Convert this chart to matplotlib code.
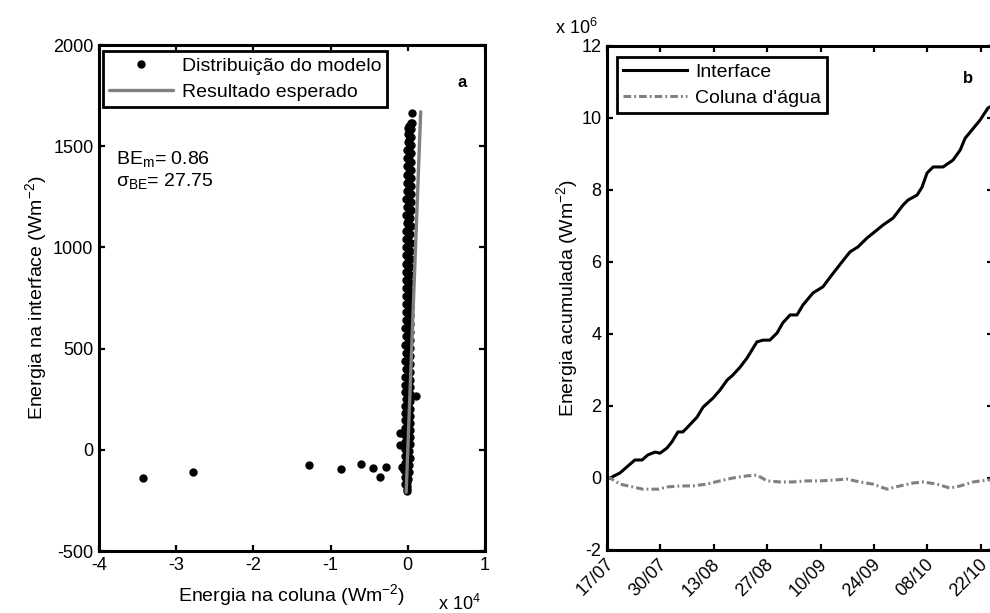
"""Energia na interface vs coluna d'agua (painel a) e energia acumulada (painel b)"""
import matplotlib
matplotlib.use("Agg")
import matplotlib.pyplot as plt
import matplotlib.transforms as mtransforms

plt.rcParams['font.family'] = ['Liberation Sans', 'DejaVu Sans']
plt.rcParams['mathtext.fontset'] = 'custom'
plt.rcParams['mathtext.rm'] = 'Liberation Sans'
plt.rcParams['mathtext.it'] = 'Liberation Sans:italic'
plt.rcParams['axes.unicode_minus'] = False
plt.rcParams['font.size'] = 14

# ---- painel a: dispersao ----
# nuvem densa perto de x = 0 (tres colunas de pontos)
cluster_y = [-205, -170, -135, -100, -65, -30, 5, 40, 75, 110, 145, 180,
             215, 250, 285, 320, 360, 400, 440, 480, 520, 560, 600, 640,
             680, 720, 760, 800, 840, 880, 920, 960, 1000, 1040, 1080, 1120,
             1160, 1200, 1240, 1280, 1320, 1360, 1400, 1440, 1480, 1520, 1560, 1590]
cluster_x_left = [-150, -300, -420, -450, -380, -420, -350, -400, -330, -380, -300, -360,
                  -320, -280, -350, -300, -330, -260, -310, -280, -330, -260, -300, -250,
                  -290, -240, -280, -230, -260, -220, -250, -200, -230, -180, -210, -160,
                  -190, -140, -170, -120, -140, -90, -110, -60, -70, -20, 0, 60]
cluster_x_mid = [-140, -150, -130, -120, -80, -100, -40, -80, -20, -60, 10, -40,
                 -10, -10, -20, 0, -10, 0, -10, 0, -20, 10, 0, 20,
                 10, 30, 20, 40, 40, 50, 50, 60, 60, 80, 80, 90,
                 100, 110, 110, 120, 130, 140, 140, 160, 170, 180, 200, 220]
cluster_x_right = [-120, 0, 150, 200, 250, 220, 280, 240, 300, 260, 320, 280,
                   300, 260, 310, 280, 300, 250, 290, 260, 300, 270, 310, 280,
                   320, 290, 330, 300, 340, 310, 350, 320, 360, 330, 370, 340,
                   380, 350, 390, 360, 400, 370, 400, 380, 410, 390, 400, 380]
cluster_y_mid = [v + 12 for v in cluster_y]
cluster_y_right = [v + 24 for v in cluster_y]
# pontos isolados
outlier_x = [-34300, -27800, -12800, -8700, -6000, -4500, -3600, -2800,
             -1000, -1000, -800, 1040, 480, 480]
outlier_y = [-141, -110, -75, -95, -70, -91, -133, -83, 82, 24, -83, 266, 1666, 1613]
expected = [-210, 1670]

# ---- painel b: energia acumulada (x10^6 W m-2) ----
days_int = [0, 0.8, 3.4, 7.3, 9.2, 10.7, 12.6, 13.9, 15.7, 17.0, 18.6, 19.9, 21.2,
            23.6, 25.2, 27.8, 29.6, 31.5, 33.0, 34.9, 36.7, 39.3, 40.9, 42.7, 44.6,
            46.1, 48.0, 49.8, 51.4, 54.0, 56.6, 59.3, 61.6, 63.7, 65.8, 68.2, 70.8,
            72.4, 75.0, 77.6, 78.9, 81.3, 82.6, 83.9, 85.5, 88.1, 90.7, 92.6, 93.9,
            95.7, 97.8, 99.9, 101.2]
interface = [0, 0, 0.14, 0.5, 0.5, 0.64, 0.72, 0.69, 0.83, 1.0, 1.28, 1.28, 1.42,
             1.69, 1.97, 2.22, 2.44, 2.72, 2.86, 3.08, 3.33, 3.78, 3.83, 3.83, 4.03,
             4.31, 4.53, 4.53, 4.81, 5.14, 5.31, 5.69, 6.0, 6.28, 6.42, 6.67, 6.89,
             7.03, 7.22, 7.58, 7.72, 7.86, 8.08, 8.47, 8.64, 8.64, 8.83, 9.11, 9.44,
             9.67, 9.94, 10.28, 10.35]
days_col = [0, 0.8, 3.4, 6.8, 9.4, 13.4, 15.7, 19.1, 22.5, 26.2, 29.6, 33.0, 36.7,
            39.3, 42.0, 45.4, 48.8, 52.4, 55.8, 59.3, 62.9, 66.3, 69.7, 73.4, 76.8,
            80.2, 82.9, 86.5, 89.9, 92.6, 96.0, 99.6, 101.2]
coluna = [0, 0, -0.17, -0.25, -0.31, -0.31, -0.25, -0.22, -0.22, -0.17, -0.08, 0.0,
          0.06, 0.08, -0.08, -0.11, -0.11, -0.08, -0.08, -0.06, -0.03, -0.11, -0.17,
          -0.31, -0.22, -0.14, -0.11, -0.17, -0.28, -0.22, -0.11, -0.06, -0.04]
date_ticks = [0, 14, 28, 42, 56, 70, 84, 98]
date_labels = ['17/07', '30/07', '13/08', '27/08', '10/09', '24/09', '08/10', '22/10']

gray = '#808080'
W, H = 990, 613
fig = plt.figure(figsize=(9.9, 6.13), dpi=100)
ax1 = fig.add_axes([99 / W, 62 / H, 386 / W, 506 / H])
ax2 = fig.add_axes([607 / W, 63 / H, 386 / W, 504 / H])

for ax in (ax1, ax2):
    for s in ax.spines.values():
        s.set_linewidth(2.2)
    ax.tick_params(direction='in', length=4, width=1.6, top=True, right=True,
                   labelsize=13, pad=4)

# painel a
ax1.plot(cluster_x_left, cluster_y, 'o', color='k', ms=5, mec='k')
ax1.plot(cluster_x_mid, cluster_y_mid, 'o', color='k', ms=5, mec='k')
ax1.plot(cluster_x_right, cluster_y_right, 'o', color='k', ms=5, mec='k')
ax1.plot(outlier_x, outlier_y, 'o', color='k', ms=5, mec='k',
         label='Distribuição do modelo')
ax1.plot(expected, expected, '-', color=gray, lw=2.4, label='Resultado esperado',
         solid_capstyle='round')
ax1.set_xlim(-40000, 10000)
ax1.set_ylim(-500, 2000)
ax1.set_xticks([-40000, -30000, -20000, -10000, 0, 10000])
ax1.set_xticklabels(['-4', '-3', '-2', '-1', '0', '1'])
ax1.set_yticks([-500, 0, 500, 1000, 1500, 2000])
ax1.set_xlabel('Energia na coluna (Wm$^{-2}$)', labelpad=6)
ax1.set_ylabel('Energia na interface (Wm$^{-2}$)', labelpad=3)
h, l = ax1.get_legend_handles_labels()
leg1 = ax1.legend(h, l, loc='upper left', bbox_to_anchor=(0.010, 0.988),
                  borderaxespad=0, fancybox=False, framealpha=1, edgecolor='k',
                  handlelength=3.3, handletextpad=0.45, borderpad=0.3,
                  labelspacing=0.45, fontsize=14)
leg1.get_frame().set_linewidth(2.0)
ax1.text(0.94, 0.925, 'a', transform=ax1.transAxes, fontweight='bold',
         fontsize=12, ha='center', va='center')
ax1.text(0.044, 0.775, 'BE$_{\\mathrm{m}}$= 0.86', transform=ax1.transAxes,
         fontsize=14, va='center')
ax1.text(0.044, 0.732, 'σ$_{\\mathrm{BE}}$= 27.75', transform=ax1.transAxes,
         fontsize=14, va='center')
fig.text(438 / W, 1 - 604 / H, 'x 10$^{4}$', fontsize=13, va='center')

# painel b
ax2.plot(days_int, interface, '-', color='k', lw=2.2, label='Interface')
ax2.plot(days_col, coluna, color=gray, lw=2.2, ls=(0, (2.5, 1, 0.6, 1)),
         label="Coluna d'água")
ax2.set_xlim(0, 101.2)
ax2.set_ylim(-2, 12)
ax2.set_yticks([-2, 0, 2, 4, 6, 8, 10, 12])
ax2.set_xticks(date_ticks)
ax2.set_xticklabels(date_labels, rotation=45, ha='right', va='top')
off = mtransforms.ScaledTranslation(10 / 100, 0, fig.dpi_scale_trans)
for lab in ax2.get_xticklabels():
    lab.set_transform(lab.get_transform() + off)
ax2.set_ylabel('Energia acumulada (Wm$^{-2}$)', labelpad=1)
leg2 = ax2.legend(loc='upper left', bbox_to_anchor=(0.026, 0.978),
                  borderaxespad=0, fancybox=False, framealpha=1, edgecolor='k',
                  handlelength=3.3, handletextpad=0.4, borderpad=0.3,
                  labelspacing=0.45, fontsize=14)
leg2.get_frame().set_linewidth(2.0)
ax2.text(0.935, 0.935, 'b', transform=ax2.transAxes, fontweight='bold',
         fontsize=12, ha='center', va='center')
fig.text(555 / W, 1 - 28 / H, 'x 10$^{6}$', fontsize=13, va='center')

fig.savefig('out.png', dpi=100)
